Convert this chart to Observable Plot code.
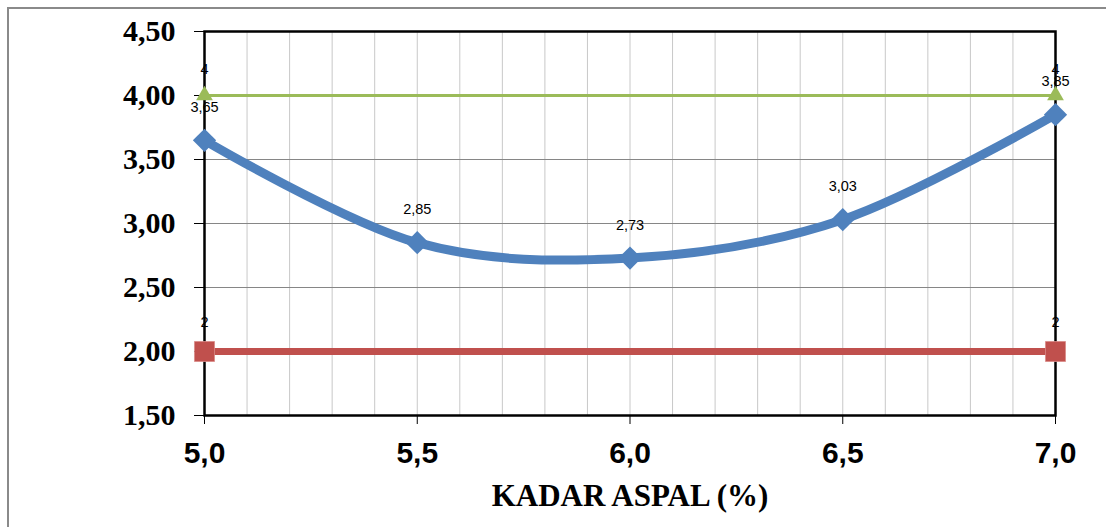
<!DOCTYPE html>
<html>
<head>
<meta charset="utf-8">
<script src="https://cdn.jsdelivr.net/npm/d3@7"></script>
<script src="https://cdn.jsdelivr.net/npm/@observablehq/plot@0.6"></script>
<style>
  html, body { margin: 0; padding: 0; background: #fff; }
  #wrap { position: relative; width: 1106px; height: 527px; overflow: hidden; }
  #border { position: absolute; left: 7px; top: 7px; width: 1200px; height: 600px;
            border-left: 2px solid #8a8a8a; border-top: 2px solid #8a8a8a; }
  #chart { position: absolute; left: 0; top: 0; }
</style>
</head>
<body>
<div id="wrap"><div id="border"></div><div id="chart"></div></div>
<script>
// Data
const kadarAspal = [5.0, 5.5, 6.0, 6.5, 7.0];
const seriesMain = [3.65, 2.85, 2.73, 3.03, 3.85];
const upperX = [5.0, 7.0];
const upperY = [4, 4];
const lowerX = [5.0, 7.0];
const lowerY = [2, 2];
const yTicks = [1.5, 2.0, 2.5, 3.0, 3.5, 4.0, 4.5];
const xTicks = [5.0, 5.5, 6.0, 6.5, 7.0];
const xTitle = "KADAR ASPAL (%)";

const comma = (v, d) => v.toFixed(d).replace(".", ",");
const main = kadarAspal.map((x, i) => ({x, y: seriesMain[i]}));
const upper = upperX.map((x, i) => ({x, y: upperY[i]}));
const lower = lowerX.map((x, i) => ({x, y: lowerY[i]}));

const labelFont = {fontFamily: "Liberation Sans, Arial, sans-serif", fontSize: 14.5, fill: "#000"};

const chart = Plot.plot({
  width: 1106,
  height: 527,
  marginLeft: 204,
  marginRight: 51,
  marginTop: 31,
  marginBottom: 112,
  x: {domain: [5, 7]},
  y: {domain: [1.5, 4.5]},
  style: {background: "transparent", overflow: "visible"},
  marks: [
    Plot.gridX({ticks: 20, stroke: "#c8c8c8", strokeOpacity: 1, strokeWidth: 1}),
    Plot.gridY({ticks: yTicks, stroke: "#868686", strokeOpacity: 1, strokeWidth: 1}),
    Plot.axisY({ticks: yTicks, tickFormat: d => comma(d, 2), tickSize: 10, tickPadding: 19,
      stroke: "#000", strokeWidth: 1, label: null, fill: "#000",
      fontFamily: "Liberation Serif, Times New Roman, serif", fontWeight: "bold", fontSize: 30}),
    Plot.axisX({ticks: xTicks, tickFormat: d => comma(d, 1), tickSize: 9, tickPadding: 17,
      stroke: "#000", strokeWidth: 1, label: null, fill: "#000",
      fontFamily: "Liberation Sans, Arial, sans-serif", fontWeight: "bold", fontSize: 30}),
    Plot.frame({stroke: "#000", strokeWidth: 2.5}),
    // lower limit (red)
    Plot.line(lower, {x: "x", y: "y", stroke: "#C0504D", strokeWidth: 7}),
    Plot.dot(lower, {x: "x", y: "y", symbol: "square", r: 11.3, fill: "#C0504D", stroke: "#d98a88", strokeWidth: 0.8}),
    // upper limit (green)
    Plot.line(upper, {x: "x", y: "y", stroke: "#9BBB59", strokeWidth: 3}),
    Plot.dot(upper, {x: "x", y: "y", symbol: "triangle2", r: 8, fill: "#9BBB59"}),
    // main series (blue)
    Plot.line(main, {x: "x", y: "y", stroke: "#4F81BD", strokeWidth: 9, curve: "cardinal", tension: 0}),
    Plot.dot(main, {x: "x", y: "y", symbol: "diamond2", r: 10.5, fill: "#4F81BD"}),
    // data labels
    Plot.text(main, {x: "x", y: "y", text: d => comma(d.y, 2), dy: -33, ...labelFont}),
    Plot.text(upper, {x: "x", y: "y", text: d => String(d.y), dy: -26, ...labelFont}),
    Plot.text(lower, {x: "x", y: "y", text: d => String(d.y), dy: -29, ...labelFont}),
    // x title
    Plot.text([xTitle], {frameAnchor: "bottom", lineAnchor: "bottom", dy: 90,
      fontFamily: "Liberation Serif, Times New Roman, serif", fontWeight: "bold", fontSize: 31, fill: "#000"})
  ]
});
document.getElementById("chart").appendChild(chart);
</script>
</body>
</html>
